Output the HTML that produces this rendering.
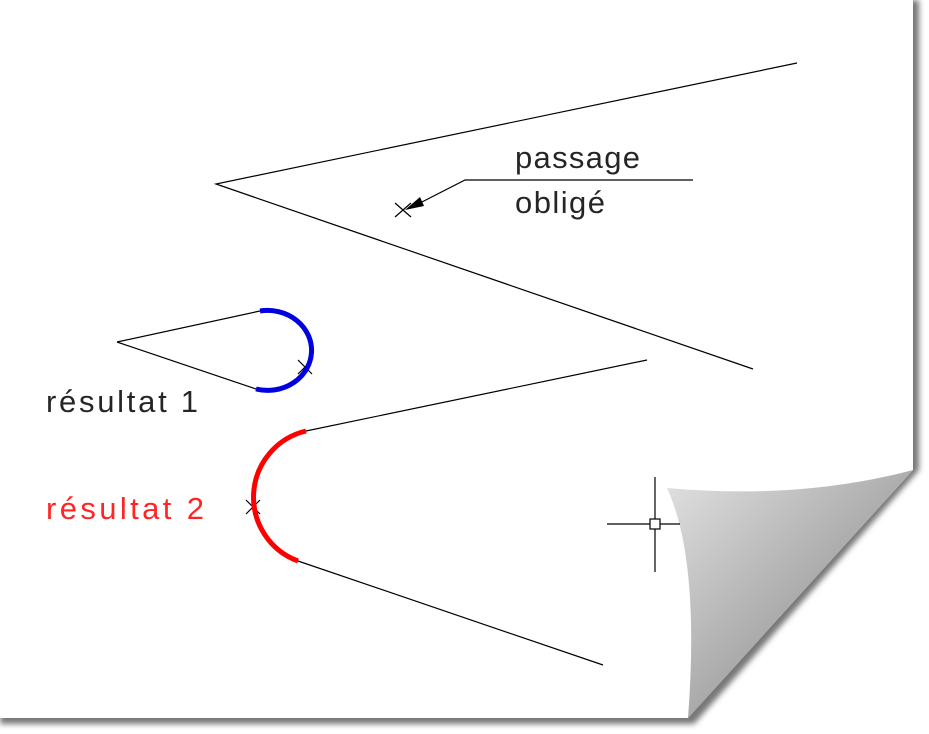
<!DOCTYPE html>
<html><head><meta charset="utf-8"><style>
html,body{margin:0;padding:0;background:#fff;}
svg{display:block}
text{font-family:"Liberation Sans",sans-serif;font-size:31px;}
</style></head><body>
<svg width="929" height="734" viewBox="0 0 929 734" xmlns="http://www.w3.org/2000/svg">
<defs>
<linearGradient id="cg" x1="0" y1="0" x2="1" y2="1">
<stop offset="0" stop-color="#e2e2e2"/><stop offset="1" stop-color="#7a7a7a"/>
</linearGradient>
<filter id="sh" x="-5%" y="-5%" width="115%" height="115%"><feGaussianBlur stdDeviation="3"/></filter>
</defs>
<rect width="929" height="734" fill="#fff"/>
<path d="M0,0 L919,0 L919,470 L694,724 L0,724 Z" fill="#777" filter="url(#sh)"/>
<path d="M0,0 L913,0 L913,470 L688,718 L0,718 Z" fill="#fff"/>
<path d="M667,488 Q800,500 913,470 L688,718 Q700,560 667,488 Z" fill="url(#cg)"/>
<g stroke="#000" stroke-width="1.2" fill="none">
<polyline points="797,63 216,184 753,369"/>
<line x1="117" y1="342" x2="260" y2="311"/>
<line x1="117" y1="342" x2="256" y2="389"/>
<line x1="306" y1="431" x2="647" y2="360"/>
<line x1="298" y1="561" x2="603" y2="665"/>
<polyline points="693,180 465,180 418,204"/>
<path d="M395,203 L411,217 M395,217 L411,203"/>
<path d="M298,360 L312,374 M298,374 L312,360"/>
<path d="M246,500 L260,514 M246,514 L260,500"/>
<line x1="655" y1="477" x2="655" y2="519"/>
<line x1="655" y1="529" x2="655" y2="572"/>
<line x1="607" y1="524" x2="650" y2="524"/>
<line x1="660" y1="524" x2="680" y2="524"/>
<rect x="650" y="519" width="10" height="10" fill="#fff"/>
</g>
<path d="M405,210 L420,197 L424,206 Z" fill="#000"/>
<path d="M260,311 A44,40 0 1 1 256,389" stroke="#0000e0" stroke-width="5" fill="none"/>
<path d="M306,431 A68,68 0 0 0 298,561" stroke="#f00" stroke-width="5" fill="none"/>
<g font-weight="normal" opacity="0.85">
<text x="515" y="168" fill="#000" textLength="125" lengthAdjust="spacing">passage</text>
<text x="515" y="213" fill="#000" textLength="90" lengthAdjust="spacing">obligé</text>
<text x="46" y="412" fill="#000" textLength="152" lengthAdjust="spacing">résultat 1</text>
<text x="46" y="519" fill="#f00" textLength="158" lengthAdjust="spacing">résultat 2</text>
</g>
</svg>
</body></html>
